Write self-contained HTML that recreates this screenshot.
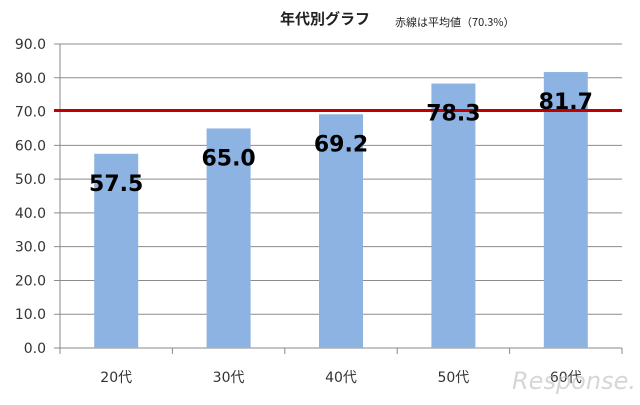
<!DOCTYPE html>
<html><head><meta charset="utf-8"><style>
body{margin:0;background:#fff;width:640px;height:400px;overflow:hidden}
text{font-family:"DejaVu Sans","Noto Sans CJK JP",sans-serif}
</style></head><body>
<svg id="c" width="640" height="400">
<text x="325" y="24" font-size="15" font-weight="bold" text-anchor="middle" fill="#222" style="font-family:'Noto Sans CJK JP',sans-serif">年代別グラフ</text>
<text x="395" y="26" font-size="11" fill="#222" style="font-family:'Noto Sans CJK JP',sans-serif">赤線は平均値（70.3%）</text>
<g id="g"></g>
<text x="512" y="389" font-size="24" fill="#bbb" opacity="0.6" font-style="italic">Response.</text>
</svg>
<script>
const categories=["20代","30代","40代","50代","60代"];
const values=[57.5,65.0,69.2,78.3,81.7];
const yTicks=[0,10,20,30,40,50,60,70,80,90];
const average=70.3;
const X0=60,X1=622,Y0=348,Y1=44,MAX=90;
const ns="http://www.w3.org/2000/svg";
const g=document.getElementById('g');
const y=v=>Y0-(v/MAX)*(Y0-Y1);
const step=(X1-X0)/categories.length;
const xc=i=>X0+step*(i+0.5);
function mk(t,a){const e=document.createElementNS(ns,t);for(const k in a)e.setAttribute(k,a[k]);g.appendChild(e);return e;}
yTicks.forEach(t=>{
 const l=mk('line',{x1:X0-6,x2:X1,y1:y(t),y2:y(t),stroke:t===0?'#888':'#8c8c8c','stroke-width':1});
 
 
 const tx=mk('text',{x:46,y:y(t)+5,'font-size':14,'text-anchor':'end',fill:'#333'});
 tx.textContent=t.toFixed(1);
 
 
});
const ax=mk('line',{x1:X0,x2:X0,y1:Y1,y2:Y0,stroke:'#888'});


for(let i=0;i<=categories.length;i++){
 const t=mk('line',{x1:X0+step*i,x2:X0+step*i,y1:Y0,y2:Y0+6,stroke:'#888'});
 
 
}
values.forEach((v,i)=>{
 const b=mk('rect',{x:xc(i)-22,y:y(v),width:44,height:Y0-y(v),fill:'#8db3e2'});
 
 
});
const r=mk('line',{x1:X0-6,x2:X1,y1:y(average),y2:y(average),stroke:'#c00000','stroke-width':3});


values.forEach((v,i)=>{
 const t=mk('text',{x:xc(i),y:y(v)+37,'font-size':22,'font-weight':'bold','text-anchor':'middle',fill:'#000'});
 t.textContent=v.toFixed(1);
 
 
 const c=mk('text',{x:xc(i),y:382,'font-size':14,'text-anchor':'middle',fill:'#333'});
 c.textContent=categories[i];
 
 
});
</script>
</body></html>
